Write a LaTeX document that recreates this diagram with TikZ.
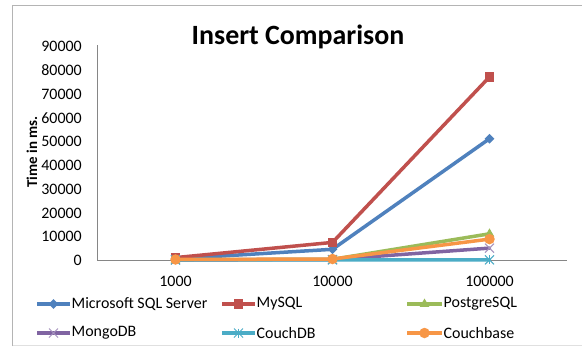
\documentclass[tikz,border=0pt]{standalone}
\usepackage{fontspec}
\setmainfont{Carlito}
\usetikzlibrary{shapes.geometric,shapes.misc,calc}
\definecolor{sblue}{HTML}{4F81BD}
\definecolor{sred}{HTML}{C0504D}
\definecolor{sgreen}{HTML}{9BBB59}
\definecolor{spurple}{HTML}{8064A2}
\definecolor{steal}{HTML}{4BACC6}
\definecolor{sorange}{HTML}{F79646}
\definecolor{axisgray}{HTML}{868686}
\definecolor{framegray}{HTML}{B4B4B4}
\tikzset{
  series/.style={line width=3.5bp, line join=round, line cap=round},
  tick/.style={font=\fontsize{16}{18}\selectfont, text=black, inner sep=0pt},
  legtext/.style={font=\fontsize{16}{18}\selectfont, text=black, anchor=west, inner sep=0pt},
  mdiam/.style={diamond, fill=sblue, inner sep=0pt, minimum size=10bp},
  msq/.style={rectangle, fill=sred, inner sep=0pt, minimum size=9.5bp},
  mtri/.style={regular polygon, regular polygon sides=3, fill=sgreen, inner sep=0pt, minimum size=11bp},
  mx/.style={cross out, draw=spurple!70, line width=1bp, inner sep=0pt, minimum size=8bp},
  mstar/.style={cross out, draw=steal, line width=1bp, inner sep=0pt, minimum size=8bp,
    append after command={(\tikzlastnode.north) edge[draw=steal, line width=1bp] (\tikzlastnode.south)}},
  mcirc/.style={circle, fill=sorange, inner sep=0pt, minimum size=10.5bp},
}
\begin{document}
\begin{tikzpicture}[x=1bp, y=-1bp]
\useasboundingbox (0,0) rectangle (582,348);
\fill[white] (0,0) rectangle (582,348);
% frame
\draw[framegray, line width=1.5bp] (12.5,346) -- (12.5,5.5) -- (582,5.5);
\draw[black!12, line width=0.8bp] (12.5,345.5) -- (582,345.5);
% title
\node[font=\fontsize{28}{32}\selectfont\bfseries, inner sep=0pt] (title) at (298,37) {Insert Comparison};
% axis title
\node[font=\fontsize{15}{17}\selectfont\bfseries, rotate=90, inner sep=0pt] (ytitle) at (32,152) {Time in ms.};
% axes
\coordinate (ytop) at (97,45);
\coordinate (orig) at (97,260);
\coordinate (xend) at (567,260);
\draw[axisgray, line width=1bp] (ytop) -- (orig) -- (xend);
% y tick labels
\foreach \v [count=\i from 0] in {0,10000,20000,30000,40000,50000,60000,70000,80000,90000}
  \node[tick, anchor=east] (yl\i) at (82,{260.5-\i*23.78}) {\v};
% x tick labels
\node[tick] (xl1) at (175.5,281) {1000};
\node[tick] (xl2) at (332.5,281) {10000};
\node[tick] (xl3) at (489.5,281) {100000};
% data coordinates
\coordinate (b1) at (175.5,258.8); \coordinate (b2) at (332.5,249.3); \coordinate (b3) at (489.5,138.7);
\coordinate (r1) at (175.5,257.6); \coordinate (r2) at (332.5,242.4); \coordinate (r3) at (489.5,76.9);
\coordinate (g1) at (175.5,259.8); \coordinate (g2) at (332.5,259.3); \coordinate (g3) at (489.5,233.8);
\coordinate (p1) at (175.5,259.9); \coordinate (p2) at (332.5,259.5); \coordinate (p3) at (489.5,248.1);
\coordinate (t1) at (175.5,259.9); \coordinate (t2) at (332.5,259.8); \coordinate (t3) at (489.5,259.8);
\coordinate (o1) at (175.5,259.5); \coordinate (o2) at (332.5,259.0); \coordinate (o3) at (489.5,239.1);
% MSSQL
\draw[series, sblue] (b1) -- (b2) -- (b3);
\foreach \c in {b1,b2,b3} \node[mdiam] at (\c) {};
% MySQL
\draw[series, sred] (r1) -- (r2) -- (r3);
\foreach \c in {r1,r2,r3} \node[msq] at (\c) {};
% PostgreSQL
\draw[series, sgreen] (g1) -- (g2) -- (g3);
\foreach \c in {g1,g2,g3} \node[mtri] at (\c) {};
% MongoDB
\draw[series, spurple] (p1) -- (p2) -- (p3);
\foreach \c in {p1,p2,p3} \node[mx] at (\c) {};
% CouchDB
\draw[series, steal] (t1) -- (t2) -- (t3);
\foreach \c in {t1,t2,t3} \node[mstar] at (\c) {};
% Couchbase
\draw[series, sorange] (o1) -- (o2) -- (o3);
\foreach \c in {o1,o2,o3} \node[mcirc] at (\c) {};
% legend
\coordinate (la1) at (37,304); \coordinate (lb1) at (70,304);
\coordinate (la2) at (222,304); \coordinate (lb2) at (255,304);
\coordinate (la3) at (407,304); \coordinate (lb3) at (442,304);
\coordinate (la4) at (37,333); \coordinate (lb4) at (70,333);
\coordinate (la5) at (222,333); \coordinate (lb5) at (255,333);
\coordinate (la6) at (407,333); \coordinate (lb6) at (442,333);
\draw[series, line cap=butt, sblue] (la1) -- (lb1); \node[mdiam] at ($(la1)!0.5!(lb1)$) {};
\draw[series, line cap=butt, sred] (la2) -- (lb2); \node[msq] at ($(la2)!0.5!(lb2)$) {};
\draw[series, line cap=butt, sgreen] (la3) -- (lb3); \node[mtri] at ($(la3)!0.5!(lb3)$) {};
\draw[series, line cap=butt, spurple] (la4) -- (lb4); \node[mx] at ($(la4)!0.5!(lb4)$) {};
\draw[series, line cap=butt, steal] (la5) -- (lb5); \node[mstar] at ($(la5)!0.5!(lb5)$) {};
\draw[series, line cap=butt, sorange] (la6) -- (lb6); \node[mcirc] at ($(la6)!0.5!(lb6)$) {};
\node[legtext] (lt1) at ([xshift=1.5bp]lb1) {Microsoft SQL Server};
\node[legtext] (lt2) at ([xshift=1.5bp]lb2) {MySQL};
\node[legtext] (lt3) at ([xshift=1.5bp]lb3) {PostgreSQL};
\node[legtext] (lt4) at ([xshift=1.5bp]lb4) {MongoDB};
\node[legtext] (lt5) at ([xshift=1.5bp]lb5) {CouchDB};
\node[legtext] (lt6) at ([xshift=1.5bp]lb6) {Couchbase};
\end{tikzpicture}
\end{document}
